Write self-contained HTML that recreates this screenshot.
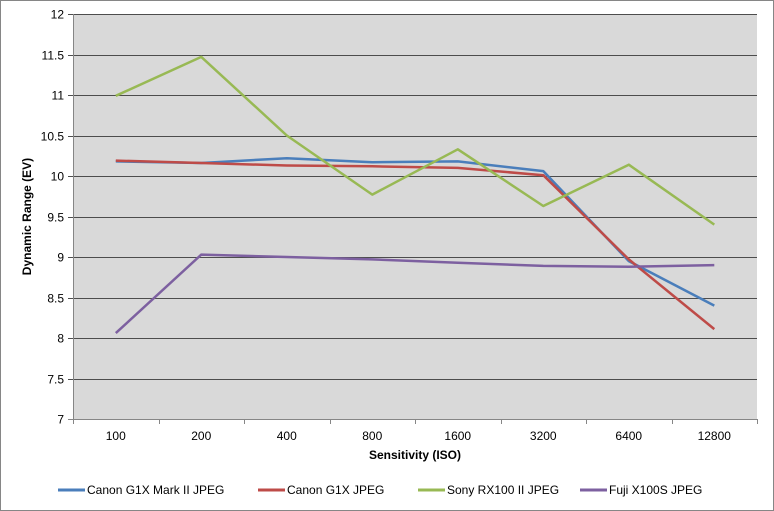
<!DOCTYPE html>
<html><head><meta charset="utf-8"><style>
html,body{margin:0;padding:0;background:#fff}
svg{display:block;font-family:"Liberation Sans",Arial,sans-serif}
</style></head><body>
<svg id="chart" width="774" height="511" viewBox="0 0 774 511">
<rect x="0.5" y="0.5" width="773" height="510" fill="#fff" stroke="#868686"/>
<g id="plot"></g>
</svg>
<script>
const categories = ["100","200","400","800","1600","3200","6400","12800"];
const seriesNames = ["Canon G1X Mark II JPEG","Canon G1X JPEG","Sony RX100 II JPEG","Fuji X100S JPEG"];
const seriesColors = ["#4a7ebb","#be4b48","#98b954","#7d60a0"];
const canonG1XMarkII = [10.18,10.16,10.22,10.17,10.18,10.06,8.95,8.40];
const canonG1X = [10.19,10.16,10.13,10.12,10.10,10.01,8.97,8.11];
const sonyRX100II = [10.99,11.47,10.50,9.77,10.33,9.63,10.14,9.40];
const fujiX100S = [8.06,9.03,9.00,8.97,8.93,8.89,8.88,8.90];
const yTicks = [7,7.5,8,8.5,9,9.5,10,10.5,11,11.5,12];
const yTickLabels = ["7","7.5","8","8.5","9","9.5","10","10.5","11","11.5","12"];

const NS="http://www.w3.org/2000/svg";
const g=document.getElementById('plot');
const L=73,R=757,T=14,B=419,yMin=7,yMax=12;
const band=(R-L)/categories.length;
const xPos=i=>L+band*(i+0.5);
const yPos=v=>B-(v-yMin)/(yMax-yMin)*(B-T);
function mk(tag,attrs){const e=document.createElementNS(NS,tag);for(const k in attrs)e.setAttribute(k,attrs[k]);g.appendChild(e);return e;}

const bg=mk('rect',{x:L,y:T,width:R-L,height:B-T,fill:'#d9d9d9'});



yTicks.forEach((t,i)=>{
  const y=Math.round(yPos(t))+0.5;
  const ln=mk('line',{x1:L-5,x2:R,y1:y,y2:y,stroke:(i===0?'#868686':'#4d4d4d'),'stroke-width':1});
  
  
  const tx=mk('text',{x:L-9,y:y+4,'text-anchor':'end','font-size':12,fill:'#000'});
  tx.textContent=yTickLabels[i];
  
  
});
const ya=mk('line',{x1:L+0.5,x2:L+0.5,y1:T,y2:B,stroke:'#868686'});


for(let i=0;i<=categories.length;i++){
  const x=Math.round(L+band*i)+0.5;
  const tk=mk('line',{x1:x,x2:x,y1:B,y2:B+5,stroke:'#868686'});
  
  
}
categories.forEach((c,i)=>{
  const tx=mk('text',{x:xPos(i),y:B+21,'text-anchor':'middle','font-size':12});
  tx.textContent=c;
  
  
});
const xt=mk('text',{x:(L+R)/2,y:459,'text-anchor':'middle','font-size':12,'font-weight':'bold'});
xt.textContent='Sensitivity (ISO)';


const yt=mk('text',{x:0,y:0,'text-anchor':'middle','font-size':12,'font-weight':'bold',transform:'translate(31,'+((T+B)/2)+') rotate(-90)'});
yt.textContent='Dynamic Range (EV)';



const allSeries=[canonG1XMarkII,canonG1X,sonyRX100II,fujiX100S];
allSeries.forEach((s,si)=>{
  const pts=s.map((v,i)=>xPos(i).toFixed(1)+','+yPos(v).toFixed(1)).join(' ');
  const pl=mk('polyline',{points:pts,fill:'none',stroke:seriesColors[si],'stroke-width':2.5,'stroke-linejoin':'round'});
  
  
});

const legX=[58,258,418,580];
seriesNames.forEach((n,i)=>{
  const ln=mk('line',{x1:legX[i],x2:legX[i]+27,y1:490,y2:490,stroke:seriesColors[i],'stroke-width':3});
  
  
  const tx=mk('text',{x:legX[i]+29,y:494,'font-size':12});
  tx.textContent=n;
  
  
});
</script>
</body></html>
